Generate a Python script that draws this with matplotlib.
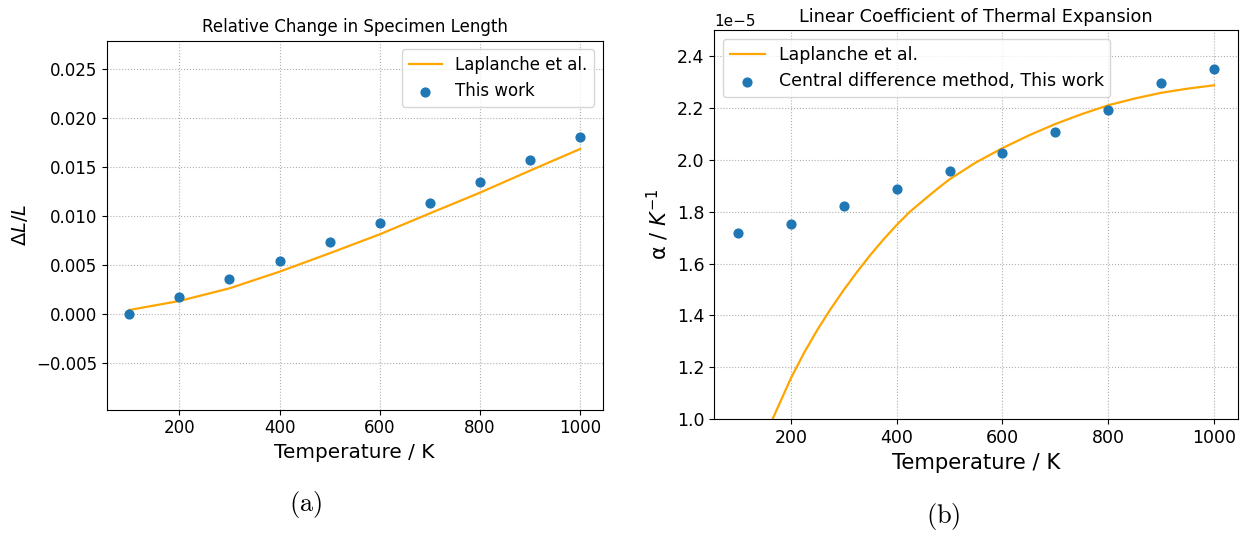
import matplotlib
matplotlib.use("Agg")
import matplotlib.pyplot as plt

# ---- data ----
temp_pts = [100, 200, 300, 400, 500, 600, 700, 800, 900, 1000]
dl_this_work = [0.0, 0.00173, 0.00354, 0.00541, 0.00731, 0.00925, 0.01133, 0.01347, 0.01571, 0.0181]
dl_laplanche = [0.00041, 0.00133, 0.00262, 0.00432, 0.0062, 0.00813, 0.01027, 0.01238, 0.01463, 0.01684]

alpha_this_work = [1.717e-5, 1.752e-5, 1.82e-5, 1.888e-5, 1.955e-5, 2.026e-5, 2.108e-5, 2.193e-5, 2.294e-5, 2.349e-5]
temp_lap_alpha = [150, 165, 200, 225, 250, 275, 300, 325, 350, 375, 400, 425, 450, 475, 500, 550, 600,
                  650, 700, 750, 800, 850, 900, 950, 1000]
alpha_laplanche = [0.93e-5, 1.0e-5, 1.159e-5, 1.257e-5, 1.345e-5, 1.425e-5, 1.499e-5, 1.568e-5, 1.633e-5,
                   1.693e-5, 1.749e-5, 1.8e-5, 1.843e-5, 1.885e-5, 1.925e-5, 1.99e-5, 2.045e-5, 2.094e-5,
                   2.138e-5, 2.176e-5, 2.21e-5, 2.236e-5, 2.258e-5, 2.274e-5, 2.287e-5]

left_yticks = [-0.005, 0.0, 0.005, 0.010, 0.015, 0.020, 0.025]
right_yticks = [1.0e-5, 1.2e-5, 1.4e-5, 1.6e-5, 1.8e-5, 2.0e-5, 2.2e-5, 2.4e-5]
xticks = [200, 400, 600, 800, 1000]

W, H = 1245, 536
fig = plt.figure(figsize=(W / 100, H / 100), dpi=100)

def box(x0, y0, x1, y1):
    return [x0 / W, 1 - y1 / H, (x1 - x0) / W, (y1 - y0) / H]

grid_kw = dict(color="#b0b0b0", linestyle=":", linewidth=0.8)

# ---- left panel ----
ax1 = fig.add_axes(box(106.8, 40.7, 602.5, 409.5))
ax1.plot(temp_pts, dl_laplanche, color="orange", lw=1.6, label="Laplanche et al.")
ax1.scatter(temp_pts, dl_this_work, s=40, color="#1f77b4", label="This work", zorder=3)
ax1.set_xlim(55, 1045)
ax1.set_ylim(-0.00975, 0.0279)
ax1.set_xticks(xticks)
ax1.set_yticks(left_yticks)
ax1.grid(True, **grid_kw)
ax1.tick_params(labelsize=12)
ax1.set_xlabel("Temperature / K", fontsize=14.4)
ax1.set_ylabel(r"$\Delta L/L$", fontsize=14)
ax1.set_title("Relative Change in Specimen Length", fontsize=12)
ax1.legend(loc="upper right", fontsize=12)

# ---- right panel ----
ax2 = fig.add_axes(box(714.3, 30, 1237.8, 419.3))
ax2.plot(temp_lap_alpha, alpha_laplanche, color="orange", lw=1.6, label="Laplanche et al.")
ax2.scatter(temp_pts, alpha_this_work, s=40, color="#1f77b4",
            label="Central difference method, This work", zorder=3)
ax2.set_xlim(55, 1045)
ax2.set_ylim(1.0e-5, 2.5e-5)
ax2.set_xticks(xticks)
ax2.set_yticks(right_yticks)
ax2.grid(True, **grid_kw)
ax2.tick_params(labelsize=12.5)
ax2.yaxis.get_offset_text().set_fontsize(11)
ax2.set_xlabel("Temperature / K", fontsize=15.2)
ax2.set_ylabel(r"α / $K^{-1}$", fontsize=15)
ax2.set_title("Linear Coefficient of Thermal Expansion", fontsize=12.7)
ax2.legend(loc="upper left", fontsize=12.5)

# ---- subfigure captions ----
fig.text(306 / W, 1 - 504 / H, r"$\mathrm{(a)}$", ha="center", va="center", fontsize=19,
         math_fontfamily="cm")
fig.text(943 / W, 1 - 517 / H, r"$\mathrm{(b)}$", ha="center", va="center", fontsize=19,
         math_fontfamily="cm")

fig.savefig("out.png", dpi=100)
